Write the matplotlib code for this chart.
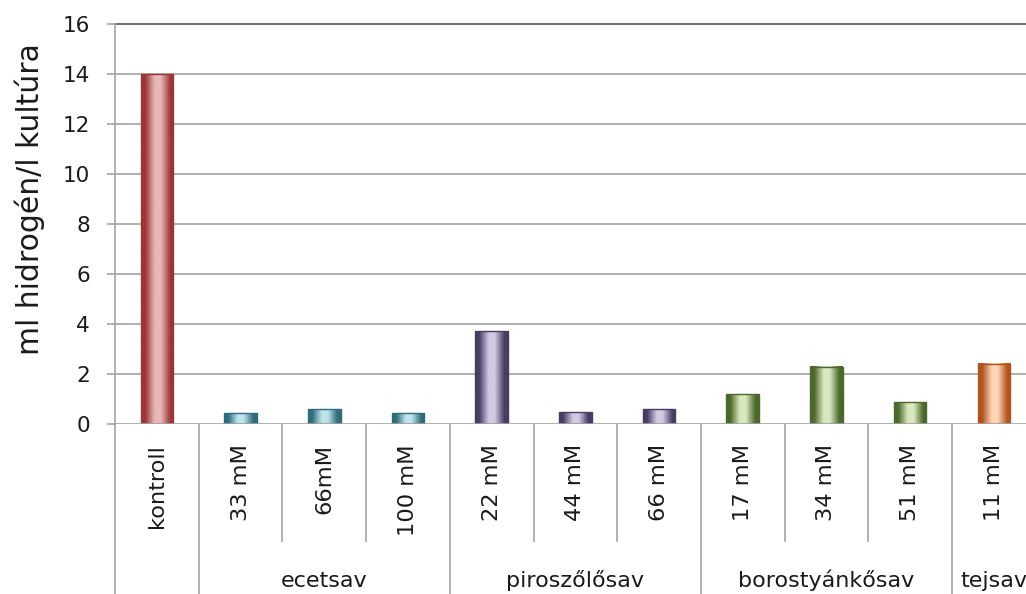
import numpy as np
import matplotlib
matplotlib.use("Agg")
import matplotlib.pyplot as plt
from matplotlib.colors import LinearSegmentedColormap
import matplotlib.transforms as mtransforms

plt.rcParams['font.family'] = ['DejaVu Sans']

# Hydrogen yield per treatment
categories = ['kontroll', '33 mM', '66mM', '100 mM', '22 mM', '44 mM', '66 mM',
              '17 mM', '34 mM', '51 mM', '11 mM']
values = [14.0, 0.43, 0.6, 0.43, 3.72, 0.48, 0.6, 1.19, 2.29, 0.87, 2.41]
groups = ['', 'ecetsav', 'piroszőlősav', 'borostyánkősav', 'tejsav']
group_sizes = [1, 3, 3, 3, 1]
y_ticks = [0, 2, 4, 6, 8, 10, 12, 14, 16]
y_label = 'ml hidrogén/l kultúra'

# (dark edge, light centre) per group for the cylinder shading
group_colors = [('#9a3636', '#e9b7b7'),
                ('#2f6c7c', '#bde4ec'),
                ('#483c63', '#d2cae4'),
                ('#4c682a', '#dae8c0'),
                ('#b0531c', '#fdd5b6')]

text_col = '#1a1a1a'
W, H = 1026, 594
fig = plt.figure(figsize=(W / 100, H / 100), dpi=100)
left_px, right_px, top_px, bottom_px = 115, 1026, 24, 424
ax = fig.add_axes([left_px / W, 1 - bottom_px / H,
                   (right_px - left_px) / W, (bottom_px - top_px) / H])

cat_w = 83.7
xmax = (right_px - left_px) / cat_w - 0.5
ax.set_xlim(-0.5, xmax)
ax.set_ylim(0, 16)

grid_col = '#a3a3a3'
for y in y_ticks[1:-1]:
    ax.axhline(y, color=grid_col, lw=1.2, zorder=0)
ax.axhline(16, color='#6e6e6e', lw=1.4, zorder=0, clip_on=False)
ax.axhline(0, color=grid_col, lw=1.2, zorder=3)

for s in ['top', 'right', 'bottom']:
    ax.spines[s].set_visible(False)
ax.spines['left'].set_color(grid_col)
ax.spines['left'].set_linewidth(1.2)
ax.spines['left'].set_bounds(0, 16)

ax.set_yticks(y_ticks)
ax.tick_params(axis='y', length=6, width=1.2, color=grid_col, labelsize=15.5,
               labelcolor=text_col, pad=12)
ax.set_xticks([])
fig.text(30 / W, 1 - 199 / H, y_label, rotation=90, ha='center', va='center',
         fontsize=21.5, color=text_col)

# bars with horizontal cylinder-style gradient
bar_w = 0.39
grad = np.linspace(0, 1, 64).reshape(1, -1)
cat_group = []
for gi, n in enumerate(group_sizes):
    cat_group += [gi] * n
for i, (v, gi) in enumerate(zip(values, cat_group)):
    dark, light = group_colors[gi]
    cmap = LinearSegmentedColormap.from_list(
        f'cyl{i}', [(0, dark), (0.12, dark), (0.42, light), (0.6, light), (0.9, dark), (1, dark)])
    x0, x1 = i - bar_w / 2, i + bar_w / 2
    ax.imshow(grad, cmap=cmap, extent=(x0, x1, 0, v), aspect='auto',
              interpolation='bilinear', zorder=2)
    ax.add_patch(plt.Rectangle((x0, 0), bar_w, v, fill=False,
                               edgecolor=dark, lw=1.0, zorder=2.5))

trans = mtransforms.blended_transform_factory(ax.transData, ax.transAxes)
ax_h = bottom_px - top_px
y_fig_bottom = -(H - bottom_px) / ax_h
y_sub_end = -(541 - bottom_px) / ax_h

# category labels, rotated
for i, lab in enumerate(categories):
    ax.text(i, -(444 - bottom_px) / ax_h, lab, rotation=90, ha='center', va='top',
            fontsize=16.2, color=text_col, transform=trans, clip_on=False)

# separators: group boundaries run to the bottom, inner ones stop short
edges = np.cumsum(group_sizes)[:-1] - 0.5
start = 0
for gi, n in enumerate(group_sizes):
    for k in range(1, n):
        xs = start + k - 0.5
        ax.plot([xs, xs], [0, y_sub_end], color=grid_col, lw=1.2,
                transform=trans, clip_on=False)
    if groups[gi]:
        ax.text(start + (n - 1) / 2, -(587 - bottom_px) / ax_h, groups[gi],
                ha='center', va='baseline', fontsize=16, color=text_col,
                transform=trans, clip_on=False)
    start += n
for xs in edges:
    ax.plot([xs, xs], [0, y_fig_bottom], color=grid_col, lw=1.2,
            transform=trans, clip_on=False)
ax.plot([-0.5, -0.5], [0, y_fig_bottom], color=grid_col, lw=1.2,
        transform=trans, clip_on=False)

fig.savefig('out.png', dpi=100)
